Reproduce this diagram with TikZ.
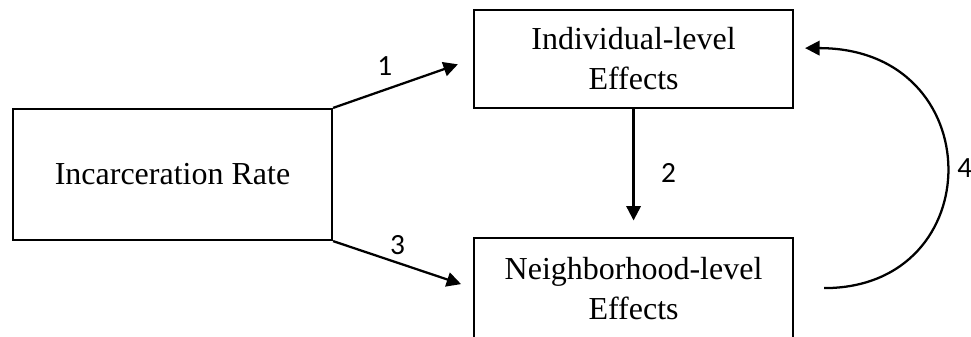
\documentclass[tikz,border=0pt]{standalone}
\usepackage{fontspec}
\setmainfont{Liberation Serif}
\newfontfamily\numfont{Carlito}
\usetikzlibrary{positioning, arrows.meta}

\tikzset{
  box/.style={draw, rectangle, align=center, minimum width=119.6pt,
    font=\fontsize{12}{15}\selectfont},
  num/.style={font=\numfont\fontsize{11}{13}\selectfont, inner sep=1pt}
}

\begin{document}
\begin{tikzpicture}[x=0.375pt,y=-0.375pt,line width=0.85pt,node distance=85.9pt,on grid,
    >={Triangle[length=5.4pt,width=5.4pt]}]
  \useasboundingbox (0,0) rectangle (971,336);
  \node[box, minimum height=49.1pt] (rate) at (172.5,174.5) {Incarceration Rate};
  \node[box, minimum height=36.75pt] (indiv) [above right=43.3pt and 172.9pt of rate] {Individual-level\\Effects};
  \node[box, minimum height=37.5pt] (neigh) [below=of indiv] {Neighborhood-level\\Effects};
  \coordinate (loopend) at ([yshift=4.1pt]indiv.east);

  \path[->]
    (rate.north east) edge [shorten >=6pt] node[num, pos=.37, above=3.8pt] {1} (indiv.west)
    (rate.south east) edge [shorten >=4.7pt] node[num, pos=.46, above=1.7pt] {3} (neigh.west)
    (indiv.south) edge [shorten >=6.2pt] node[num, pos=.5, right=8.9pt] {2} (neigh.north)
    (neigh.east) edge [out=0, in=0, looseness=2.1, shorten <=11.25pt, shorten >=4.1pt]
      node[num, right=4.5pt] {4} (loopend);
\end{tikzpicture}
\end{document}
